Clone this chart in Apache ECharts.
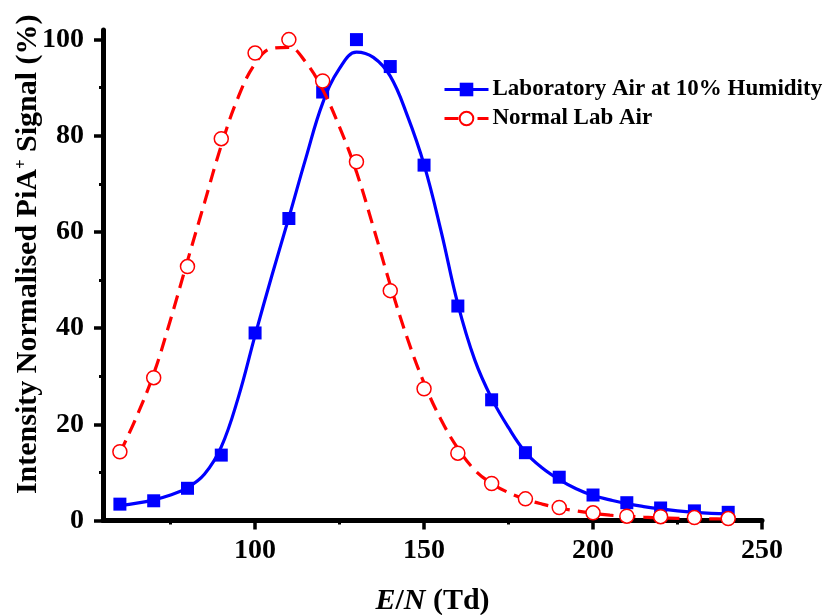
<!DOCTYPE html>
<html>
<head>
<meta charset="utf-8">
<script src="https://cdn.jsdelivr.net/npm/echarts@6/dist/echarts.min.js"></script>
<style>
  html, body { margin: 0; padding: 0; background: #fff; }
  #chart { width: 823px; height: 615px; }
</style>
</head>
<body>
<div id="chart"></div>
<script>
// Reduced field E/N (Td) at which each spectrum was recorded
const energyTd = [60, 70, 80, 90, 100, 110, 120, 130, 140, 150, 160, 170, 180, 190, 200, 210, 220, 230, 240];

// Normalised PiA+ intensity (%) — measured points
const humidAir = [3.4, 4.1, 6.7, 13.6, 39.0, 62.8, 89.1, 100, 94.4, 73.9, 44.6, 25.1, 14.1, 9.0, 5.3, 3.7, 2.6, 2.0, 1.7];
const labAir = [14.3, 29.7, 52.8, 79.4, 97.2, 100, 91.4, 74.6, 47.8, 27.4, 14.0, 7.7, 4.5, 2.7, 1.6, 0.9, 0.8, 0.6, 0.4];

// Fitted peak profiles, sampled every 5 Td
const fitEnergyTd = [60, 65, 70, 75, 80, 85, 90, 95, 100, 105, 110, 115, 120, 125, 130, 135, 140, 145, 150,
  155, 160, 165, 170, 175, 180, 185, 190, 195, 200, 205, 210, 215, 220, 225, 230, 235, 240];
const humidFit = [3.1, 3.6, 4.3, 5.3, 6.8, 9.6, 15.3, 25.5, 38.5, 51.0, 63.0, 75.3, 86.8, 94.0, 97.4, 96.3, 92.4,
  84.3, 74.0, 60.3, 45.0, 33.4, 25.4, 19.3, 14.2, 10.9, 8.5, 6.6, 5.2, 4.3, 3.5, 2.9, 2.4, 2.0, 1.7, 1.5, 1.4];
const labFit = [14.0, 21.7, 30.5, 41.8, 54.0, 66.0, 78.0, 88.0, 95.0, 98.2, 98.4, 95.3, 89.6, 81.8, 72.5, 61.0,
  49.0, 38.0, 28.6, 21.0, 15.0, 10.5, 7.7, 5.8, 4.4, 3.4, 2.6, 2.0, 1.5, 1.1, 0.9, 0.7, 0.55, 0.45, 0.4, 0.35, 0.3];

// Axis ticks
const xMajorTicks = [100, 150, 200, 250];
const xMinorTicks = [75, 125, 175, 225];
const yMajorTicks = [0, 20, 40, 60, 80, 100];
const yMinorTicks = [10, 30, 50, 70, 90];

const seriesNames = ['Laboratory Air at 10% Humidity', 'Normal Lab Air'];

const BLUE = '#0000ff';
const RED = '#ff0000';
const FONT = '"Liberation Serif", "Times New Roman", serif';

const pairs = (xs, ys) => xs.map((x, i) => [x, ys[i]]);

const chart = echarts.init(document.getElementById('chart'), null, { renderer: 'canvas' });

const baseText = { fontFamily: FONT, fontWeight: 'bold', color: '#000' };

chart.setOption({
  animation: false,
  backgroundColor: '#fff',
  grid: { left: 103, right: 61, top: 30, bottom: 94.5, containLabel: false, outerBoundsMode: 'none' },
  legend: {
    left: 443,
    top: 78,
    padding: 0,
    orient: 'vertical',
    itemWidth: 44,
    itemHeight: 17,
    itemGap: 6,
    textStyle: { ...baseText, fontSize: 23, padding: [0, 0, 0, -1] },
    data: [
      { name: seriesNames[0], lineStyle: { color: BLUE, width: 3, opacity: 1, type: 'solid' } },
      { name: seriesNames[1], lineStyle: { color: RED, width: 3, opacity: 1, type: [14, 19] } }
    ]
  },
  xAxis: [
    {
      type: 'value',
      min: 55,
      max: 250,
      position: 'bottom',
      splitLine: { show: false },
      axisLine: { show: true, lineStyle: { color: '#000', width: 5 } },
      axisTick: { show: true, customValues: xMajorTicks, length: 9, lineStyle: { color: '#000', width: 3.5 } },
      axisLabel: { ...baseText, fontSize: 28, margin: 16, customValues: xMajorTicks },
      name: '{i|E}{n|/}{i|N}{n| (Td)}',
      nameLocation: 'middle',
      nameGap: 66,
      nameMoveOverlap: false,
      nameTextStyle: {
        rich: {
          i: { ...baseText, fontStyle: 'italic', fontSize: 30 },
          n: { ...baseText, fontSize: 30 }
        }
      }
    },
    {
      type: 'value',
      min: 55,
      max: 250,
      position: 'bottom',
      splitLine: { show: false },
      axisLine: { show: false },
      axisTick: { show: true, customValues: xMinorTicks, length: 4, lineStyle: { color: '#000', width: 3 } },
      axisLabel: { show: false }
    }
  ],
  yAxis: [
    {
      type: 'value',
      min: 0,
      max: 102,
      position: 'left',
      splitLine: { show: false },
      axisLine: { show: true, lineStyle: { color: '#000', width: 5 } },
      axisTick: { show: true, customValues: yMajorTicks, length: 9, lineStyle: { color: '#000', width: 3.5 } },
      axisLabel: { ...baseText, fontSize: 28, margin: 19, customValues: yMajorTicks },
      name: 'Intensity Normalised PiA{sup|+} Signal (%)',
      nameLocation: 'middle',
      nameGap: 60,
      nameMoveOverlap: false,
      nameTextStyle: {
        ...baseText,
        fontSize: 30,
        padding: [0, 0, 0, 42],
        rich: {
          sup: { ...baseText, fontSize: 17, verticalAlign: 'top' }
        }
      }
    },
    {
      type: 'value',
      min: 0,
      max: 102,
      position: 'left',
      splitLine: { show: false },
      axisLine: { show: false },
      axisTick: { show: true, customValues: yMinorTicks, length: 4, lineStyle: { color: '#000', width: 3 } },
      axisLabel: { show: false }
    }
  ],
  series: [
    {
      name: 'humid-fit',
      type: 'line',
      xAxisIndex: 0,
      yAxisIndex: 0,
      data: pairs(fitEnergyTd, humidFit),
      smooth: 0.4,
      showSymbol: false,
      silent: true,
      lineStyle: { color: BLUE, width: 3.2 },
      z: 2
    },
    {
      name: seriesNames[0],
      type: 'line',
      xAxisIndex: 0,
      yAxisIndex: 0,
      data: pairs(energyTd, humidAir),
      symbol: 'rect',
      symbolSize: 13,
      showSymbol: true,
      lineStyle: { opacity: 0, color: BLUE },
      itemStyle: { color: BLUE, opacity: 1 },
      emphasis: { disabled: true },
      z: 3
    },
    {
      name: 'lab-fit',
      type: 'line',
      xAxisIndex: 0,
      yAxisIndex: 0,
      data: pairs(fitEnergyTd, labFit),
      smooth: 0.4,
      showSymbol: false,
      silent: true,
      lineStyle: { color: RED, width: 3.2, type: [14, 8] },
      z: 4
    },
    {
      name: seriesNames[1],
      type: 'line',
      xAxisIndex: 0,
      yAxisIndex: 0,
      data: pairs(energyTd, labAir),
      symbol: 'circle',
      symbolSize: 14,
      showSymbol: true,
      lineStyle: { opacity: 0, color: RED },
      itemStyle: { color: '#fff', borderColor: RED, borderWidth: 1.5, opacity: 1 },
      emphasis: { disabled: true },
      z: 5
    }
  ]
});
</script>
</body>
</html>
